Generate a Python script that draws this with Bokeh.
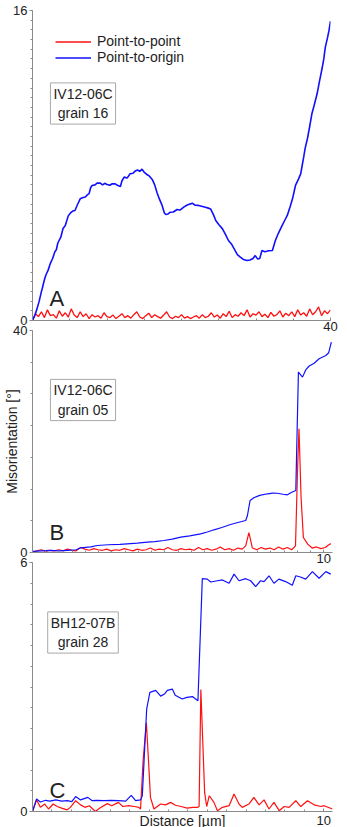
from bokeh.plotting import figure
from bokeh.layouts import column
from bokeh.models import SingleIntervalTicker, Range1d, Label, Legend, LegendItem
from bokeh.embed import file_html
from bokeh.resources import INLINE

# ---------------- data ----------------
# Panel A: IV12-06C grain 16, distance 0-40 µm
A_blue_x = [0.0, 0.3, 0.6, 0.9, 1.2, 1.3, 1.6, 1.8, 2.1, 2.4, 2.7, 3.0, 3.2, 3.4, 3.8,
            4.1, 4.4, 4.8, 5.1, 5.4, 5.7, 6.0, 6.4, 6.8, 7.1, 7.4, 7.6, 7.8, 8.0, 8.4,
            8.7, 9.1, 9.4, 9.7, 10.0, 10.4, 10.7, 11.1, 11.4, 11.8, 12.0, 12.3, 12.7, 13.1, 13.5,
            13.8, 14.1, 14.4, 14.7, 15.0, 15.3, 15.7, 16.1, 16.4, 16.7, 17.0, 17.4, 17.7, 17.9, 18.2,
            18.5, 18.9, 19.4, 19.8, 20.3, 20.7, 21.2, 21.5, 21.8, 22.3, 22.7, 23.2, 23.6, 23.9, 24.3,
            24.6, 25.0, 25.5, 25.9, 26.3, 26.7, 27.2, 27.5, 27.9, 28.3, 28.8, 29.2, 29.6, 29.9, 30.2,
            30.5, 30.8, 31.2, 31.7, 32.2, 32.6, 33.0, 33.5, 33.9, 34.2, 34.6, 34.9, 35.3, 35.7, 36.0,
            36.2, 36.4, 36.6, 36.9, 37.2, 37.5, 37.8, 38.2, 38.5, 38.9, 39.1, 39.3, 39.6, 39.8, 40.0]
A_blue_y = [0.0, 0.25, 0.6, 1.0, 1.5, 1.64, 2.1, 2.35, 2.6, 2.95, 3.2, 3.55, 3.65, 4.0, 4.3,
            4.75, 4.9, 5.4, 5.55, 5.65, 5.68, 5.95, 6.28, 6.35, 6.37, 6.5, 6.55, 6.85, 6.97, 7.0,
            7.1, 7.09, 7.0, 7.08, 7.02, 6.98, 7.06, 7.05, 6.98, 6.92, 7.2, 7.4, 7.35, 7.57, 7.6,
            7.72, 7.77, 7.7, 7.81, 7.65, 7.55, 7.45, 7.26, 7.0, 6.62, 6.3, 5.94, 5.55, 5.47, 5.5,
            5.59, 5.6, 5.73, 5.7, 5.85, 5.95, 6.02, 6.05, 5.95, 5.94, 5.9, 5.85, 5.8, 5.76, 5.45,
            5.16, 4.95, 4.73, 4.45, 4.13, 3.95, 3.61, 3.4, 3.27, 3.15, 3.1, 3.12, 3.2, 3.35, 3.18,
            3.2, 3.61, 3.55, 3.6, 3.61, 4.13, 4.5, 4.9, 5.2, 5.42, 5.9, 6.28, 6.97, 7.3, 7.57,
            8.0, 8.43, 8.9, 9.38, 10.0, 10.67, 11.1, 11.7, 12.3, 13.07, 13.5, 14.1, 14.6, 14.97, 15.45]
A_red_x = [0.0, 0.4, 0.8, 1.2, 1.6, 2.0, 2.4, 2.8, 3.2, 3.6,
           4.0, 4.4, 4.8, 5.2, 5.6, 6.0, 6.4, 6.8, 7.2, 7.6,
           8.0, 8.4, 8.8, 9.2, 9.6, 10.0, 10.4, 10.8, 11.2, 11.6,
           12.0, 12.4, 12.8, 13.2, 13.6, 14.0, 14.4, 14.8, 15.2, 15.6,
           16.0, 16.4, 16.8, 17.2, 17.6, 18.0, 18.4, 18.8, 19.2, 19.6,
           20.0, 20.4, 20.8, 21.2, 21.6, 22.0, 22.4, 22.8, 23.2, 23.6,
           24.0, 24.4, 24.8, 25.2, 25.6, 26.0, 26.4, 26.8, 27.2, 27.6,
           28.0, 28.4, 28.8, 29.2, 29.6, 30.0, 30.4, 30.8, 31.2, 31.6,
           32.0, 32.4, 32.8, 33.2, 33.6, 34.0, 34.4, 34.8, 35.2, 35.6,
           36.0, 36.4, 36.8, 37.2, 37.6, 38.0, 38.4, 38.8, 39.2, 39.6,
           40.0]
A_red_y = [0.00, 0.35, 0.20, 0.45, 0.15, 0.55, 0.25, 0.30, 0.12, 0.50,
           0.22, 0.40, 0.18, 0.60, 0.28, 0.15, 0.45, 0.20, 0.35, 0.10,
           0.30, 0.18, 0.25, 0.12, 0.40, 0.20, 0.15, 0.28, 0.10, 0.22,
           0.35, 0.15, 0.25, 0.12, 0.30, 0.45, 0.18, 0.10, 0.25, 0.38,
           0.15, 0.30, 0.20, 0.12, 0.28, 0.45, 0.18, 0.10, 0.22, 0.15,
           0.30, 0.12, 0.20, 0.10, 0.18, 0.25, 0.12, 0.30, 0.15, 0.22,
           0.40, 0.18, 0.28, 0.12, 0.35, 0.20, 0.48, 0.15, 0.30, 0.22,
           0.40, 0.25, 0.55, 0.18, 0.35, 0.28, 0.45, 0.20, 0.32, 0.15,
           0.42, 0.22, 0.30, 0.50, 0.18, 0.38, 0.25, 0.45, 0.20, 0.55,
           0.28, 0.40, 0.22, 0.60, 0.30, 0.45, 0.70, 0.25, 0.50, 0.35,
           0.55]

# Panel B: IV12-06C grain 05, distance 0-10 µm
B_blue_x = [0.0, 0.3, 0.6, 0.9, 1.2, 1.5, 1.65, 2.0, 2.22, 2.6, 3.0, 3.25, 3.6, 3.94, 4.2,
            4.51, 4.8, 5.09, 5.4, 5.77, 6.0, 6.23, 6.5, 6.8, 7.05, 7.32, 7.38, 7.47, 7.6, 7.8,
            8.07, 8.25, 8.41, 8.6, 8.75, 8.9, 9.04, 9.13, 9.27, 9.38, 9.5, 9.67, 9.84, 10.07, 10.17,
            10.26]
B_blue_y = [0.2, 0.3, 0.4, 0.3, 0.4, 0.5, 0.85, 1.0, 1.26, 1.4, 1.45, 1.57, 1.7, 1.86, 1.95,
            2.16, 2.4, 2.76, 3.0, 3.37, 3.7, 4.09, 4.5, 5.05, 5.4, 5.77, 6.67, 9.37, 9.86, 10.3,
            10.58, 10.7, 10.68, 10.5, 10.4, 10.86, 11.17, 32.5, 31.6, 32.9, 33.6, 34.1, 34.9, 35.5, 36.0,
            37.9]
B_red_x = [0.0, 0.15, 0.3, 0.45, 0.6, 0.75, 0.9, 1.05, 1.2, 1.35,
           1.5, 1.65, 1.8, 1.95, 2.1, 2.25, 2.4, 2.55, 2.7, 2.85,
           3.0, 3.15, 3.3, 3.45, 3.6, 3.75, 3.9, 4.05, 4.2, 4.35,
           4.5, 4.65, 4.8, 4.95, 5.1, 5.25, 5.4, 5.55, 5.7, 5.85,
           6.0, 6.15, 6.3, 6.45, 6.6, 6.75, 6.9, 7.05, 7.2, 7.32,
           7.43, 7.55, 7.7, 7.85, 8.0, 8.15, 8.3, 8.45, 8.6, 8.75,
           8.9, 9.03, 9.1, 9.15, 9.22, 9.3, 9.45, 9.6, 9.75, 9.9,
           10.05, 10.15, 10.24]
B_red_y = [0.0, 0.3, 0.5, 0.2, 0.4, 0.3, 0.5, 0.3, 0.6, 0.4,
           0.3, 0.9, 0.6, 0.4, 0.7, 0.5, 0.4, 0.6, 0.3, 0.5,
           0.4, 0.7, 0.5, 0.3, 0.6, 0.4, 0.5, 0.8, 0.4, 0.6,
           0.5, 0.9, 0.5, 0.4, 0.7, 0.5, 0.6, 0.4, 0.9, 0.5,
           0.7, 0.4, 0.6, 1.0, 0.5, 0.7, 0.4, 0.8, 0.6, 1.2,
           3.6, 0.8, 0.5, 0.9, 0.6, 0.8, 0.5, 1.0, 0.6, 0.9,
           0.5, 1.2, 15.0, 22.3, 10.0, 2.7, 1.5, 0.8, 1.0, 0.7,
           0.9, 1.3, 1.6]

# Panel C: BH12-07B grain 28, distance 0-10 µm
C_blue_x = [0.0, 0.14, 0.27, 0.45, 0.6, 0.8, 1.0, 1.2, 1.35, 1.48,
            1.65, 1.9, 2.05, 2.2, 2.45, 2.7, 2.95, 3.2, 3.39, 3.54,
            3.71, 3.77, 3.92, 4.03, 4.23, 4.4, 4.53, 4.63, 4.8, 4.9,
            5.14, 5.3, 5.49, 5.68, 5.83, 6.0, 6.12, 6.35, 6.52, 6.75,
            6.92, 7.09, 7.32, 7.49, 7.66, 7.83, 7.95, 8.12, 8.29, 8.46,
            8.69, 8.92, 9.04, 9.2, 9.38, 9.61, 9.84, 10.07, 10.24]
C_blue_y = [0.0, 0.30, 0.23, 0.27, 0.25, 0.28, 0.25, 0.26, 0.24, 0.36,
            0.28, 0.34, 0.26, 0.27, 0.26, 0.27, 0.26, 0.25, 0.39, 0.26,
            0.28, 0.38, 2.47, 2.87, 2.92, 2.78, 2.83, 2.92, 2.95, 2.8,
            2.71, 2.75, 2.77, 2.67, 5.61, 5.6, 5.53, 5.56, 5.58, 5.5,
            5.72, 5.56, 5.61, 5.56, 5.42, 5.56, 5.54, 5.68, 5.5, 5.6,
            5.54, 5.45, 5.68, 5.65, 5.6, 5.78, 5.62, 5.78, 5.72]
C_red_x = [0.0, 0.14, 0.27, 0.42, 0.55, 0.71, 0.85, 1.0, 1.19, 1.3,
           1.48, 1.65, 1.8, 1.95, 2.16, 2.3, 2.57, 2.72, 2.95, 3.1,
           3.3, 3.5, 3.65, 3.71, 3.8, 3.91, 3.98, 4.05, 4.17, 4.4,
           4.57, 4.74, 4.91, 5.1, 5.31, 5.5, 5.66, 5.72, 5.78, 5.91,
           5.98, 6.07, 6.23, 6.35, 6.52, 6.75, 6.92, 7.09, 7.2, 7.43,
           7.6, 7.78, 7.95, 8.12, 8.29, 8.47, 8.64, 8.81, 9.04, 9.21,
           9.44, 9.67, 9.9, 10.01, 10.3]
C_red_y = [0.0, 0.28, 0.1, 0.18, 0.06, 0.18, 0.12, 0.08, 0.04, 0.1,
           0.26, 0.16, 0.1, 0.14, 0.0, 0.08, 0.19, 0.14, 0.22, 0.12,
           0.14, 0.12, 0.1, 0.06, 1.26, 2.14, 1.26, 0.34, 0.06, 0.18,
           0.16, 0.22, 0.15, 0.12, 0.08, 0.1, 0.1, 0.12, 2.94, 0.46,
           0.12, 0.38, 0.22, 0.02, 0.1, 0.14, 0.42, 0.18, 0.1, 0.18,
           0.34, 0.16, 0.28, 0.06, 0.22, 0.02, 0.12, 0.1, 0.26, 0.12,
           0.26, 0.16, 0.12, 0.14, 0.06]

SERIES_NAMES = ["Point-to-point", "Point-to-origin"]
PANEL_LETTERS = ["A", "B", "C"]
SAMPLE_TAGS = ["IV12-06C\ngrain 16", "IV12-06C\ngrain 05", "BH12-07B\ngrain 28"]
X_LABEL = "Distance [µm]"
Y_LABEL = "Misorientation [°]"

# ---------------- styling ----------------
FONT = "Liberation Sans"
RED = "#ff1010"
BLUE = "#1010ff"
AXIS = "#8a8a8a"
TXT = "#222222"


def make_fig(xmax, ymax, frame_h, top, bottom, right, x_int, x_minor, y_int, y_minor):
    p = figure(frame_width=347 - 32 - right, frame_height=frame_h,
               x_range=Range1d(0, xmax), y_range=Range1d(0, ymax),
               output_backend="svg", toolbar_location=None,
               min_border_left=32, min_border_right=right,
               min_border_top=top, min_border_bottom=bottom)
    p.grid.visible = False
    p.outline_line_color = None
    p.background_fill_alpha = 0
    p.border_fill_alpha = 0
    p.xaxis.ticker = SingleIntervalTicker(interval=x_int, num_minor_ticks=x_minor)
    p.yaxis.ticker = SingleIntervalTicker(interval=y_int, num_minor_ticks=y_minor)
    for ax in (p.xaxis[0], p.yaxis[0]):
        ax.axis_line_color = AXIS
        ax.major_tick_line_color = AXIS
        ax.minor_tick_line_color = AXIS
        ax.major_label_text_font = FONT
        ax.major_label_text_font_size = "13px"
        ax.major_label_text_color = TXT
        ax.axis_label_text_font = FONT
        ax.axis_label_text_font_size = "14px"
        ax.axis_label_text_font_style = "normal"
        ax.axis_label_text_color = TXT
    xa = p.xaxis[0]
    xa.major_tick_in = 3
    xa.major_tick_out = 0
    xa.minor_tick_in = 2
    xa.minor_tick_out = 0
    xa.major_label_standoff = 1
    xa.major_label_overrides = {0: ""}
    ya = p.yaxis[0]
    ya.major_tick_in = 0
    ya.major_tick_out = 3
    ya.minor_tick_in = 0
    ya.minor_tick_out = 2
    ya.major_label_standoff = 2
    return p


def add_tags(p, letter, tag, ly, tx, ty):
    p.add_layout(Label(x=17, y=ly, x_units="screen", y_units="screen", text=letter,
                       text_font=FONT, text_font_size="22px", text_color=TXT,
                       text_baseline="alphabetic"))
    p.add_layout(Label(x=tx, y=ty, x_units="screen", y_units="screen", text=tag,
                       text_font=FONT, text_font_size="14px", text_color=TXT,
                       text_align="center", text_baseline="middle",
                       border_line_color="#a8a8a8", border_line_width=1,
                       background_fill_color="white", padding=3))


# Panel A
pA = make_fig(40, 16, 310, 10, 14, 17, 40, 8, 16, 32)
rA_red = pA.line(A_red_x, A_red_y, color=RED, line_width=1.3)
rA_blue = pA.line(A_blue_x, A_blue_y, color=BLUE, line_width=1.6)
leg = Legend(items=[LegendItem(label=SERIES_NAMES[0], renderers=[rA_red]),
                    LegendItem(label=SERIES_NAMES[1], renderers=[rA_blue])],
             location="top_left", margin=23, padding=0, spacing=0,
             border_line_color=None, background_fill_alpha=0,
             glyph_width=36, glyph_height=13, label_height=13, label_standoff=6,
             label_text_font=FONT, label_text_font_size="14px", label_text_color=TXT)
pA.add_layout(leg)
add_tags(pA, PANEL_LETTERS[0], SAMPLE_TAGS[0], 22, 50.5, 217)

# Panel B
pB = make_fig(10.3, 40, 222, 6, 14, 15, 10, 22, 40, 7)
pB.line(B_red_x, B_red_y, color=RED, line_width=1.2)
pB.line(B_blue_x, B_blue_y, color=BLUE, line_width=1.2)
pB.yaxis[0].axis_label = Y_LABEL
pB.yaxis[0].axis_label_standoff = -10
add_tags(pB, PANEL_LETTERS[1], SAMPLE_TAGS[1], 20, 50.5, 152.5)
pB.styles = {"margin-top": "-10px"}

# Panel C
pC = make_fig(10.3, 6, 249, 6, 16, 15, 10, 15, 6, 12)
pC.line(C_red_x, C_red_y, color=RED, line_width=1.2)
pC.line(C_blue_x, C_blue_y, color=BLUE, line_width=1.2)
pC.xaxis[0].axis_label = X_LABEL
pC.xaxis[0].axis_label_standoff = -15
pC.xaxis[0].major_label_standoff = 4
add_tags(pC, PANEL_LETTERS[2], SAMPLE_TAGS[2], 21, 50.5, 179)
pC.styles = {"margin-top": "-10px"}

layout = column(pA, pB, pC, spacing=0)
open("out.html", "w").write(file_html(layout, INLINE))
